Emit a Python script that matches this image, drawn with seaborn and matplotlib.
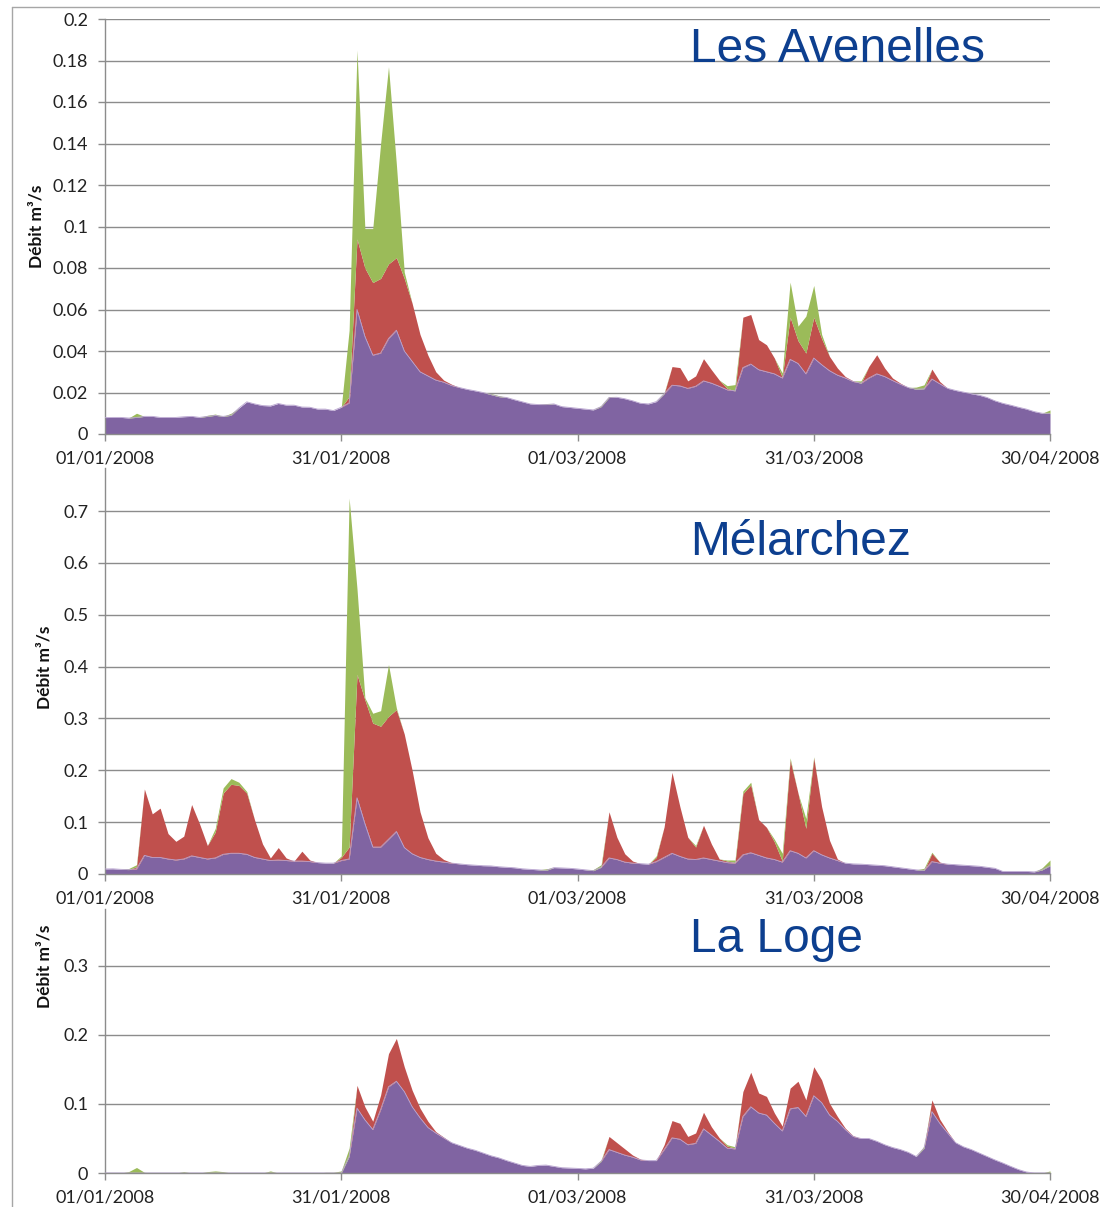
import numpy as np
import pandas as pd
import matplotlib
matplotlib.use("Agg")
import matplotlib.pyplot as plt
import matplotlib.dates as mdates
from matplotlib.lines import Line2D
import seaborn as sns

sns.set_theme(style="white")
plt.rcParams["font.family"] = ["Lato", "DejaVu Sans"]

# ---------------- data ----------------
dates = pd.date_range("2008-01-01", "2008-04-30", freq="D")
tick_dates = pd.to_datetime(["2008-01-01", "2008-01-31", "2008-03-01", "2008-03-31", "2008-04-30"])
tick_labels = ["01/01/2008", "31/01/2008", "01/03/2008", "31/03/2008", "30/04/2008"]
series_colors = ["#8064A2", "#C0504D", "#9BBB59"]

# Les Avenelles (m3/s) - stacked components
avenelles_purple = [
    .0079, .008, .008, .0077, .008, .0085, .0085, .008, .008, .008,
    .0083, .0085, .008, .0085, .009, .0085, .009, .0125, .0155, .0145,
    .0137, .0135, .0147, .0139, .0139, .013, .0129, .012, .012, .0113,
    .0129, .015, .060, .047, .038, .039, .046, .050, .040, .035,
    .030, .028, .026, .025, .0234, .0224, .0215, .0208, .020, .019,
    .018, .0176, .0165, .0155, .0145, .0142, .0142, .0145, .0132, .0128,
    .0124, .012, .0116, .0132, .0176, .0177, .017, .016, .0148, .0145,
    .0156, .0194, .0235, .0232, .022, .023, .0256, .0245, .023, .0213,
    .0208, .032, .0337, .031, .030, .029, .027, .036, .034, .029,
    .0366, .0334, .0305, .0284, .027, .0253, .0245, .027, .029, .0277,
    .0258, .024, .0224, .0216, .0218, .0265, .0242, .022, .021, .0202,
    .0194, .0187, .0176, .016, .0148, .0139, .0129, .012, .0108, .010,
    .010]
avenelles_red = [
    0, 0, 0, 0, 0, 0, 0, 0, 0, 0,
    0, 0, 0, 0, 0, 0, 0, 0, 0, 0,
    0, 0, 0, 0, 0, 0, 0, 0, 0, 0,
    0, .003, .034, .033, .035, .036, .036, .035, .035, .028,
    .018, .010, .004, .001, .0006, 0, 0, 0, 0, 0,
    0, 0, 0, 0, 0, 0, 0, 0, 0, 0,
    0, 0, 0, 0, 0, 0, 0, 0, 0, 0,
    0, 0, .009, .0088, .0036, .005, .0107, .0065, .003, .0007,
    0, .0243, .0239, .0145, .013, .0076, .0004, .0203, .011, .010,
    .0197, .0126, .0069, .0034, .0007, .0003, 0, .0056, .0092, .0041,
    .0012, .0005, 0, 0, 0, .0048, .0011, 0, 0, 0,
    0, 0, 0, 0, 0, 0, 0, 0, 0, 0,
    0]
avenelles_green = [
    0, 0, 0, 0, .002, 0, 0, 0, 0, 0,
    0, 0, 0, .0005, .0006, 0, .001, 0, 0, 0,
    0, 0, 0, 0, 0, 0, 0, 0, 0, 0,
    0, .032, .091, .019, .026, .065, .095, .045, .003, 0,
    0, 0, 0, 0, 0, 0, 0, 0, 0, .0005,
    .0005, 0, 0, 0, 0, 0, .0005, 0, 0, 0,
    0, 0, 0, .0005, .0005, 0, 0, 0, 0, 0,
    0, .0005, 0, 0, 0, 0, 0, 0, 0, .0013,
    .003, 0, 0, 0, 0, 0, .002, .0169, .007, .0178,
    .0153, .002, 0, 0, 0, 0, .0011, 0, 0, 0,
    0, 0, 0, .001, .0019, 0, 0, 0, 0, 0,
    0, 0, 0, 0, 0, 0, 0, 0, 0, 0,
    .0016]

# Mélarchez
melarchez_purple = [
    .0097, .010, .009, .0085, .0097, .036, .032, .032, .029, .027,
    .029, .035, .032, .029, .031, .038, .040, .040, .038, .032,
    .029, .026, .027, .026, .025, .025, .024, .022, .021, .021,
    .026, .029, .147, .097, .052, .052, .067, .082, .051, .039,
    .032, .028, .025, .023, .021, .0195, .018, .017, .016, .0156,
    .014, .013, .012, .010, .009, .008, .007, .0123, .0117, .011,
    .0097, .008, .0065, .013, .031, .028, .023, .021, .020, .019,
    .024, .032, .040, .034, .029, .028, .031, .028, .025, .022,
    .021, .037, .041, .036, .031, .028, .023, .045, .040, .031,
    .045, .037, .031, .026, .021, .0195, .019, .018, .017, .016,
    .014, .012, .010, .008, .007, .024, .021, .019, .018, .017,
    .016, .015, .013, .011, .005, .005, .005, .005, .004, .008,
    .016]
melarchez_red = [
    0, 0, 0, 0, .0043, .128, .084, .095, .049, .036,
    .044, .099, .065, .026, .050, .118, .133, .131, .118, .072,
    .029, .005, .024, .005, 0, .019, .003, 0, 0, 0,
    .006, .023, .238, .239, .239, .233, .237, .235, .219, .161,
    .088, .042, .015, .005, .001, 0, 0, 0, 0, 0,
    0, 0, 0, 0, 0, 0, 0, 0, 0, 0,
    0, 0, 0, 0, .089, .043, .016, .004, 0, 0,
    .008, .059, .156, .096, .042, .024, .063, .030, .004, .003,
    .001, .118, .131, .069, .059, .034, .002, .175, .116, .057,
    .179, .093, .034, .003, 0, 0, 0, 0, 0, 0,
    0, 0, 0, 0, 0, .016, .002, 0, 0, 0,
    0, 0, 0, 0, 0, 0, 0, 0, 0, 0,
    0]
melarchez_green = [
    0, 0, 0, .002, .004, 0, 0, 0, 0, 0,
    0, 0, 0, 0, .007, .010, .011, .006, .003, 0,
    0, 0, 0, 0, 0, 0, 0, 0, 0, 0,
    .003, .673, .165, .004, .019, .030, .100, .003, 0, 0,
    0, 0, 0, 0, 0, 0, 0, 0, 0, 0,
    0, 0, 0, 0, 0, 0, .003, 0, 0, 0,
    0, 0, .002, .005, 0, 0, 0, 0, 0, 0,
    .003, 0, 0, 0, 0, .003, 0, 0, 0, .002,
    .005, .005, .005, 0, 0, .005, .015, .004, 0, .019,
    .002, 0, 0, 0, 0, 0, 0, 0, 0, 0,
    0, 0, 0, 0, .004, .002, 0, 0, 0, 0,
    0, 0, 0, 0, 0, 0, 0, 0, 0, .004,
    .011]

# La Loge
laloge_purple = [
    0, 0, 0, 0, 0, 0, 0, 0, 0, 0,
    0, 0, 0, 0, 0, 0, 0, 0, 0, 0,
    0, 0, 0, 0, 0, 0, 0, 0, 0, 0,
    0, .024, .094, .077, .063, .092, .125, .133, .118, .096,
    .080, .066, .058, .051, .044, .040, .036, .033, .029, .025,
    .022, .018, .0145, .011, .0096, .011, .0115, .0096, .0077, .0072,
    .0067, .006, .007, .017, .034, .030, .026, .023, .019, .018,
    .018, .034, .051, .049, .041, .043, .064, .055, .046, .036,
    .035, .082, .096, .087, .084, .072, .061, .093, .095, .082,
    .112, .102, .084, .075, .063, .053, .050, .050, .046, .041,
    .037, .034, .030, .024, .036, .089, .072, .058, .044, .038,
    .034, .029, .024, .019, .0145, .0096, .005, .0015, 0, 0,
    0]
laloge_red = [
    0, 0, 0, 0, 0, 0, 0, 0, 0, 0,
    0, 0, 0, 0, 0, 0, 0, 0, 0, 0,
    0, 0, 0, 0, 0, 0, 0, 0, 0, 0,
    0, 0, .033, .019, .012, .021, .048, .062, .036, .024,
    .014, .009, .002, .001, 0, 0, 0, 0, 0, 0,
    0, 0, 0, 0, 0, 0, 0, 0, 0, 0,
    0, 0, 0, 0, .019, .014, .009, .003, .001, 0,
    0, .007, .025, .023, .012, .015, .024, .012, .005, .003,
    .001, .036, .050, .029, .027, .015, .007, .030, .038, .024,
    .042, .033, .017, .007, .002, .001, 0, 0, 0, 0,
    0, 0, 0, 0, 0, .017, .006, .002, 0, 0,
    0, 0, 0, 0, 0, 0, 0, 0, 0, 0,
    0]
laloge_green = [
    0, 0, 0, .002, .008, .001, 0, 0, 0, 0,
    .002, 0, 0, .002, .003, .002, 0, 0, 0, 0,
    0, .003, 0, 0, 0, 0, 0, 0, .001, .001,
    .003, .012, 0, 0, 0, 0, 0, 0, 0, 0,
    0, 0, 0, 0, 0, 0, 0, 0, 0, 0,
    0, 0, 0, 0, 0, 0, 0, 0, 0, 0,
    0, 0, 0, .002, 0, 0, 0, 0, 0, 0,
    0, 0, 0, 0, 0, 0, 0, 0, 0, .002,
    .002, 0, 0, 0, 0, 0, 0, 0, 0, 0,
    0, 0, 0, 0, 0, 0, 0, 0, 0, 0,
    0, 0, 0, 0, .003, 0, 0, 0, 0, 0,
    0, 0, 0, 0, 0, 0, 0, 0, 0, 0,
    .003]

avenelles_yticks = [0, 0.02, 0.04, 0.06, 0.08, 0.1, 0.12, 0.14, 0.16, 0.18, 0.2]
avenelles_ylabels = ["0", "0.02", "0.04", "0.06", "0.08", "0.1", "0.12", "0.14", "0.16", "0.18", "0.2"]
melarchez_yticks = [0, 0.1, 0.2, 0.3, 0.4, 0.5, 0.6, 0.7]
melarchez_ylabels = ["0", "0.1", "0.2", "0.3", "0.4", "0.5", "0.6", "0.7"]
laloge_yticks = [0, 0.1, 0.2, 0.3]
laloge_ylabels = ["0", "0.1", "0.2", "0.3"]

# ---------------- figure ----------------
W, H = 1100, 1207
fig = plt.figure(figsize=(W / 100, H / 100), dpi=100)

def rect(left, top, right, bottom):
    return [left / W, 1 - bottom / H, (right - left) / W, (bottom - top) / H]

panels = [
    dict(title="Les Avenelles", data=(avenelles_purple, avenelles_red, avenelles_green),
         yticks=avenelles_yticks, ylabels=avenelles_ylabels, ymax=0.2,
         box=(105, 19, 1050, 434), title_xy=(690, 62), ylab_xy=(36, 226)),
    dict(title="Mélarchez", data=(melarchez_purple, melarchez_red, melarchez_green),
         yticks=melarchez_yticks, ylabels=melarchez_ylabels, ymax=0.783,
         box=(105, 468, 1050, 874), title_xy=(690, 555), ylab_xy=(45, 667)),
    dict(title="La Loge", data=(laloge_purple, laloge_red, laloge_green),
         yticks=laloge_yticks, ylabels=laloge_ylabels, ymax=0.3826,
         box=(105, 909, 1050, 1173), title_xy=(690, 952), ylab_xy=(45, 966)),
]

grey = "#8C8C8C"
for p in panels:
    ax = fig.add_axes(rect(*p["box"]))
    for s in p["data"]:
        assert len(s) == len(dates)
    df = pd.DataFrame({"date": dates, "purple": p["data"][0], "red": p["data"][1], "green": p["data"][2]})
    ax.stackplot(df["date"], df["purple"], df["red"], df["green"],
                 colors=series_colors, linewidth=0, zorder=2)
    sns.lineplot(x=df["date"], y=df["purple"], ax=ax, color="#B8A3CF", lw=0.6, zorder=3)
    ax.set_xlim(dates[0], dates[-1])
    ax.set_ylim(0, p["ymax"])
    ax.set_yticks(p["yticks"])
    ax.set_yticklabels(p["ylabels"])
    ax.set_xticks(tick_dates)
    ax.set_xticklabels(tick_labels)
    ax.set_axisbelow(True)
    ax.grid(axis="y", color=grey, lw=1)
    ax.grid(axis="x", visible=False)
    for side in ["top", "right"]:
        ax.spines[side].set_visible(False)
    for side in ["left", "bottom"]:
        ax.spines[side].set_color(grey)
        ax.spines[side].set_linewidth(1)
    ax.tick_params(axis="both", which="major", direction="out", length=5, width=1,
                   color=grey, labelsize=13, labelcolor="#222222", pad=7,
                   bottom=True, left=True)
    ax.set_xlabel("")
    ax.set_ylabel("")
    fig.text(p["ylab_xy"][0] / W, 1 - p["ylab_xy"][1] / H, "Débit m³/s", rotation=90,
             ha="center", va="center", fontsize=12.5, fontweight="bold", color="#111111")
    fig.text(p["title_xy"][0] / W, 1 - p["title_xy"][1] / H, p["title"],
             ha="left", va="baseline", fontsize=34.5, color="#0D3F8F",
             family=["Liberation Sans", "DejaVu Sans"])

# outer frame lines
fig.add_artist(Line2D([12 / W, 12 / W], [0, 1 - 7 / H], color="#A6A6A6", lw=1))
fig.add_artist(Line2D([12 / W, 1], [1 - 7 / H, 1 - 7 / H], color="#A6A6A6", lw=1))

fig.savefig("out.png", dpi=100)
